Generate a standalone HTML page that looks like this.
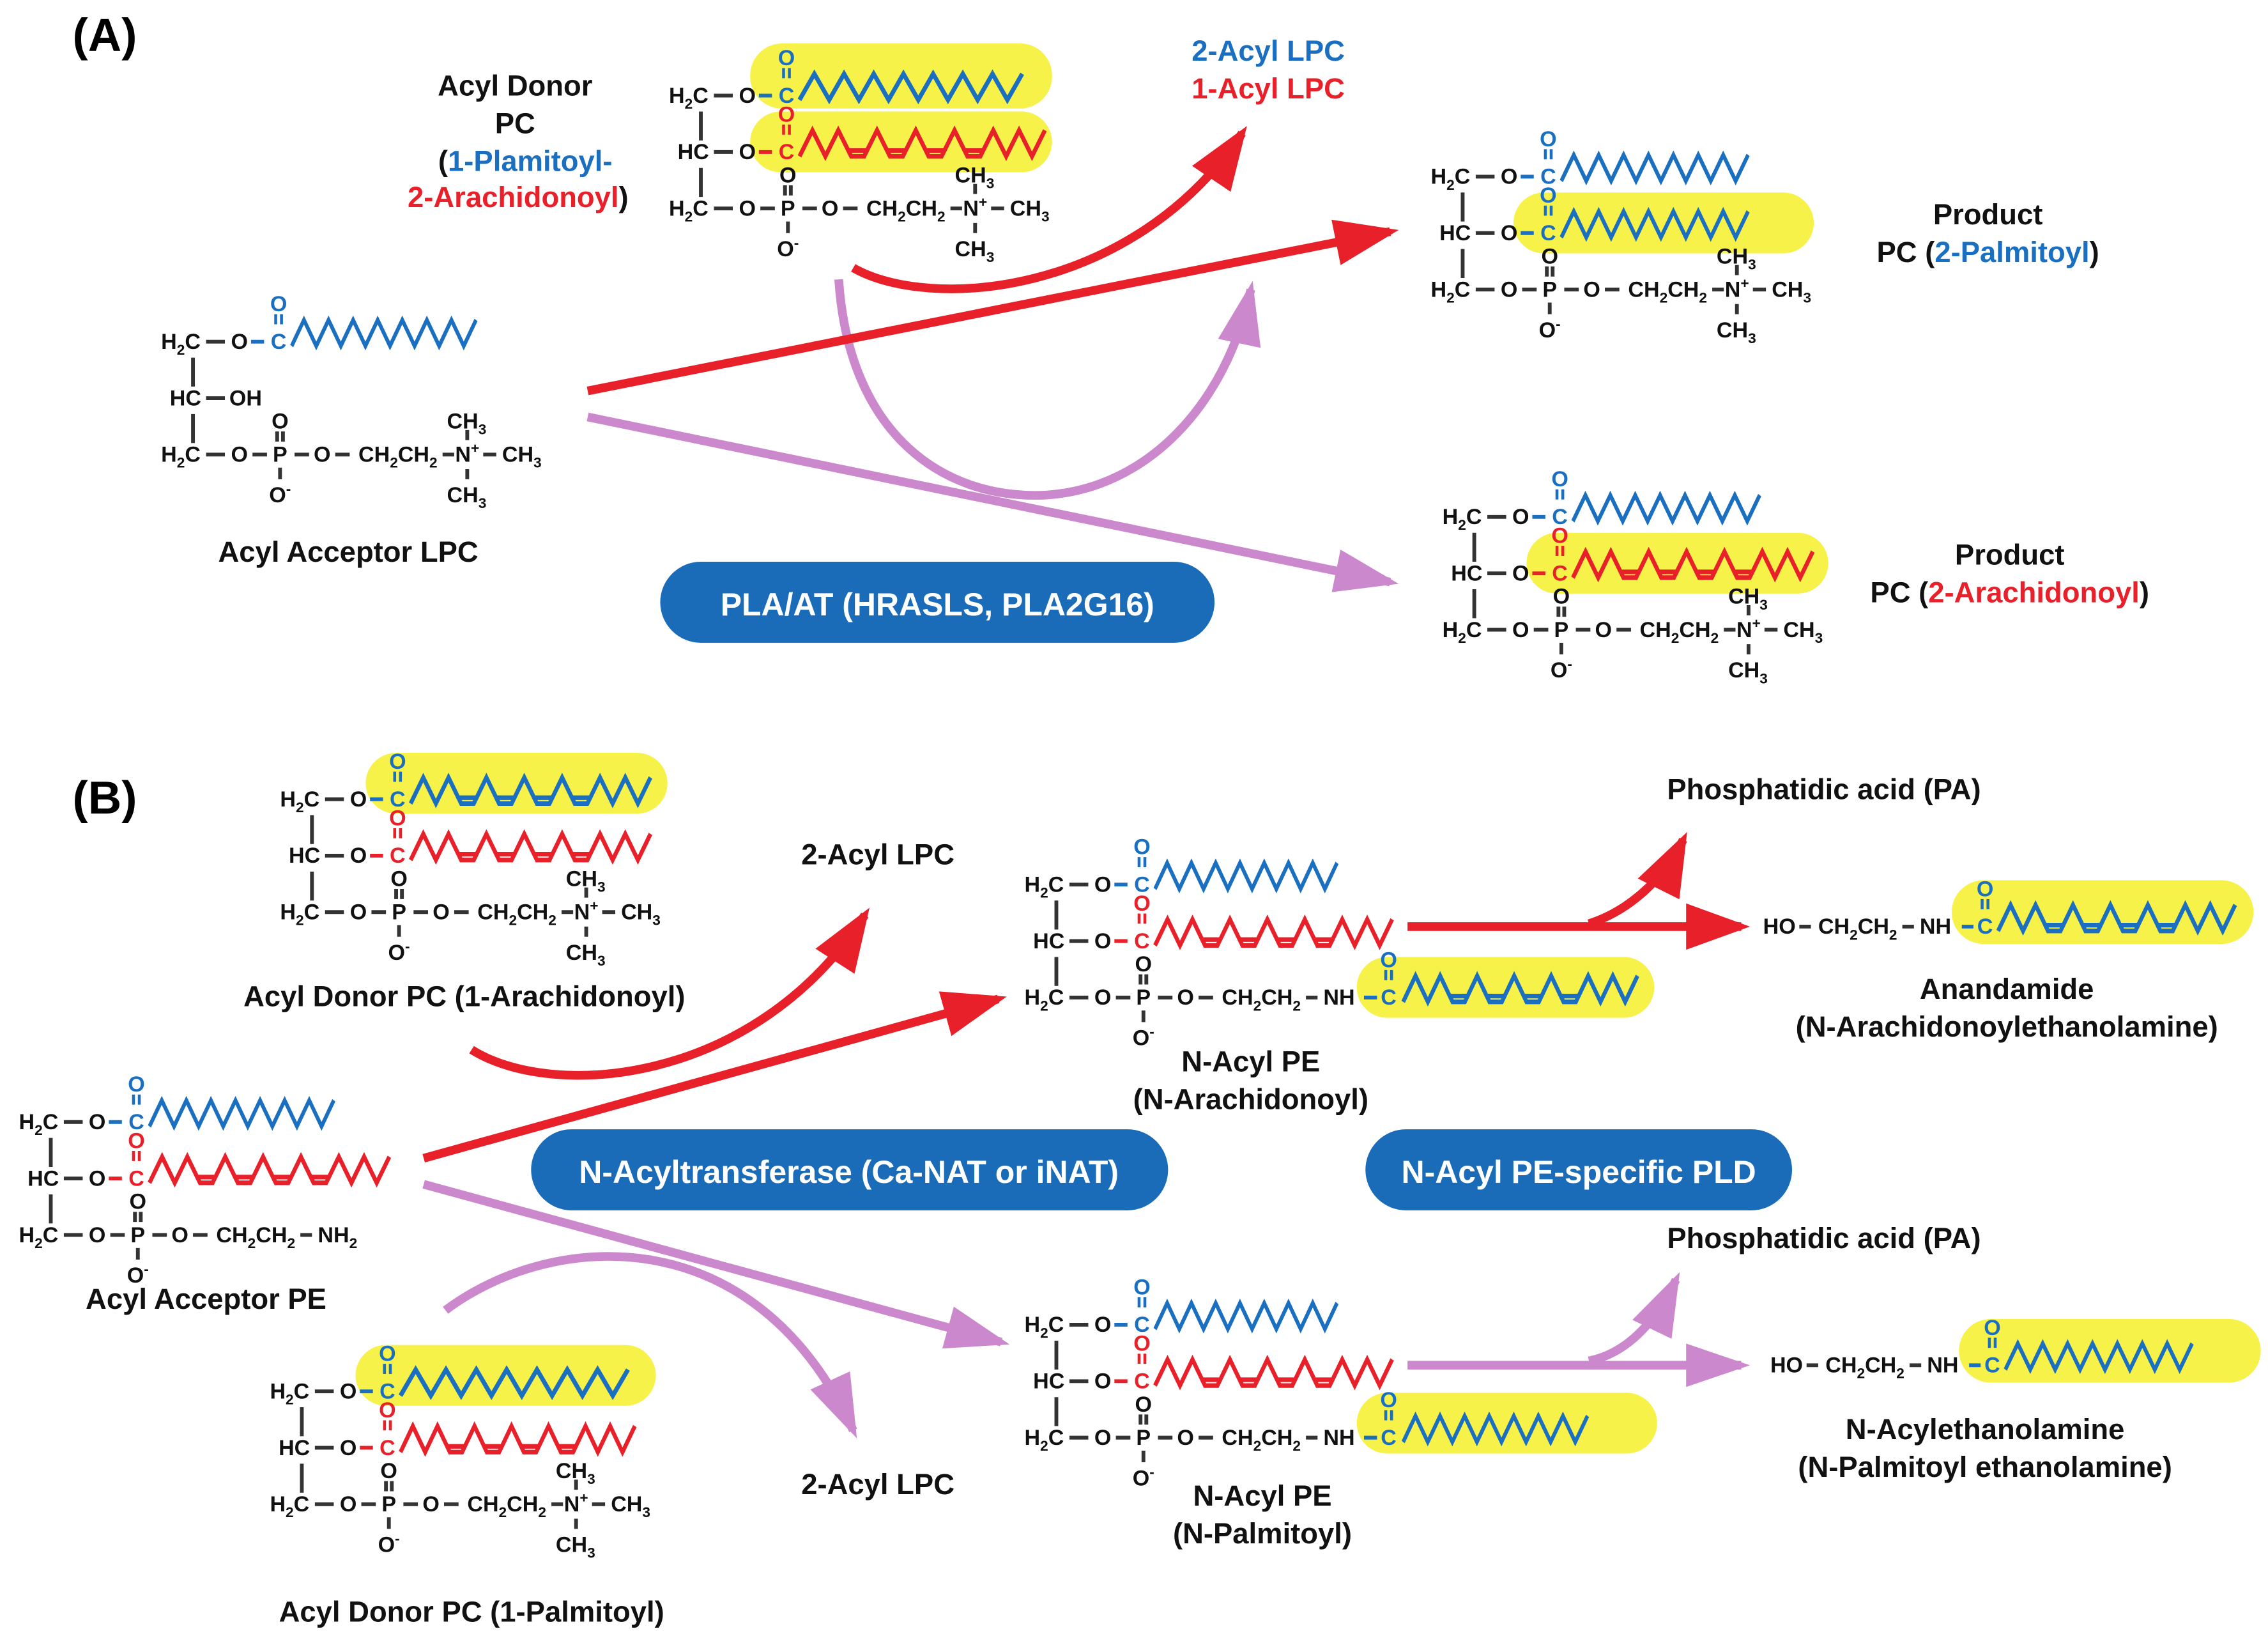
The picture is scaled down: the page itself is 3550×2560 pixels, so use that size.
<!DOCTYPE html>
<html><head><meta charset="utf-8"><style>
html,body{margin:0;padding:0;background:#fff}
svg{display:block}
text{font-family:"Liberation Sans",sans-serif;font-weight:bold}
.m{font-size:15px;fill:#111}
.s{font-size:10px}
.lb{font-size:20px;fill:#111}
.bd{stroke:#333;stroke-width:2.6}
.B{fill:#1a6fc0}.R{fill:#e8202a}
</style></head><body>
<svg width="3550" height="2560" viewBox="0 0 1563 1130" preserveAspectRatio="none" xmlns="http://www.w3.org/2000/svg">
<defs>
<path id="zz" fill="none" stroke-width="3.2" stroke-linejoin="miter" d="M0,0 l11,-18 11,18 11,-18 11,18 11,-18 11,18 11,-18 11,18 11,-18 11,18 11,-18 11,18 11,-18 11,18 11,-18"/>
<path id="zzd" fill="none" stroke-width="3.2" d="M0,0 l10,-18 10,18 10,-18 10,18 h10 l10,-18 10,18 h10 l10,-18 10,18 h10 l10,-18 10,18 h10 l10,-18 10,18 10,-18 10,18 10,-18 M38,-4 h14 M68,-4 h14 M98,-4 h14 M128,-4 h14"/>
<marker id="ar" markerUnits="userSpaceOnUse" markerWidth="44" markerHeight="32" refX="38" refY="16" orient="auto" viewBox="0 0 44 32"><path d="M0,0 L44,16 L0,32 z" fill="#e8202a"/></marker>
<marker id="ap" markerUnits="userSpaceOnUse" markerWidth="44" markerHeight="30" refX="38" refY="15" orient="auto" viewBox="0 0 44 30"><path d="M0,0 L44,15 L0,30 z" fill="#cc88cc"/></marker>
</defs>

<!-- labels -->
<text x="50" y="35" style="font-size:32px">(A)</text>
<text x="50" y="562" style="font-size:32px">(B)</text>
<g class="lb" text-anchor="middle">
<text x="355" y="66">Acyl Donor</text>
<text x="355" y="92">PC</text>
<text x="362" y="118">(<tspan class="B">1-Plamitoyl-</tspan></text>
<text x="357" y="143"><tspan class="R">2-Arachidonoyl</tspan>)</text>
<text x="874" y="42" class="B">2-Acyl LPC</text>
<text x="874" y="68" class="R">1-Acyl LPC</text>
<text x="240" y="388">Acyl Acceptor  LPC</text>
<text x="1370" y="155">Product</text>
<text x="1370" y="181">PC (<tspan class="B">2-Palmitoyl</tspan>)</text>
<text x="1385" y="390">Product</text>
<text x="1385" y="416">PC (<tspan class="R">2-Arachidonoyl</tspan>)</text>
<text x="320" y="695">Acyl Donor  PC (1-Arachidonoyl)</text>
<text x="605" y="597">2-Acyl LPC</text>
<text x="142" y="904">Acyl Acceptor  PE</text>
<text x="325" y="1120">Acyl Donor  PC (1-Palmitoyl)</text>
<text x="605" y="1032">2-Acyl LPC</text>
<text x="862" y="740">N-Acyl PE</text>
<text x="862" y="766">(N-Arachidonoyl)</text>
<text x="870" y="1040">N-Acyl PE</text>
<text x="870" y="1066">(N-Palmitoyl)</text>
<text x="1257" y="552">Phosphatidic acid (PA)</text>
<text x="1257" y="862">Phosphatidic acid (PA)</text>
<text x="1383" y="690">Anandamide</text>
<text x="1383" y="716">(N-Arachidonoylethanolamine)</text>
<text x="1368" y="994">N-Acylethanolamine</text>
<text x="1368" y="1020">(N-Palmitoyl ethanolamine)</text>
</g>

<!-- blue pills -->
<rect x="455" y="388" width="382" height="56" rx="28" fill="#1a6bb8"/>
<text x="646" y="425" text-anchor="middle" style="font-size:22px;fill:#fff">PLA/AT (HRASLS, PLA2G16)</text>
<rect x="366" y="780" width="439" height="56" rx="28" fill="#1a6bb8"/>
<text x="585" y="817" text-anchor="middle" style="font-size:22px;fill:#fff">N-Acyltransferase (Ca-NAT or iNAT)</text>
<rect x="941" y="780" width="294" height="56" rx="28" fill="#1a6bb8"/>
<text x="1088" y="817" text-anchor="middle" style="font-size:22px;fill:#fff">N-Acyl PE-specific PLD</text>

<!-- A donor PC -->
<g transform="translate(458,71)">
<rect x="59" y="-41" width="208" height="45" rx="22" fill="#f7f24a"/>
<rect x="59" y="6" width="208" height="42" rx="21" fill="#f7f24a"/>
<text class="m" x="3" y="0">H<tspan class="s" dy="4">2</tspan><tspan dy="-4">C</tspan></text><line class="bd" x1="34" x2="47" y1="-5" y2="-5"/><text class="m" x="57" y="0" text-anchor="middle">O</text>
<line x1="65" x2="74" y1="-5" y2="-5" stroke="#1a6fc0" stroke-width="2.6"/><text class="m B" x="84" y="0" text-anchor="middle">C</text><path d="M82,-24v7M86,-24v7" stroke="#1a6fc0" stroke-width="2"/><text class="m B" x="84" y="-26" text-anchor="middle">O</text>
<use href="#zz" transform="translate(93,-2) scale(.93,1)" stroke="#1a6fc0"/>
<text class="m" x="9" y="39">HC</text><line class="bd" x1="34" x2="47" y1="34" y2="34"/><text class="m" x="57" y="39" text-anchor="middle">O</text>
<line x1="65" x2="74" y1="34" y2="34" stroke="#e8202a" stroke-width="2.6"/><text class="m R" x="84" y="39" text-anchor="middle">C</text><path d="M82,15v7M86,15v7" stroke="#e8202a" stroke-width="2"/><text class="m R" x="84" y="13" text-anchor="middle">O</text>
<use href="#zzd" transform="translate(93,37) scale(.89,1)" stroke="#e8202a"/>
<path class="bd" d="M25,6v20M25,45v20"/>
<text class="m" x="3" y="78">H<tspan class="s" dy="4">2</tspan><tspan dy="-4">C</tspan></text><path class="bd" d="M34,73h13M66,73h10M95,73h10M123,73h10M197,73h8M225,73h9M83,57v7M87,57v7M85,82v8M214,56v7M214,83v7"/>
<text class="m" x="57" y="78" text-anchor="middle">O</text><text class="m" x="85" y="78" text-anchor="middle">P</text><text class="m" x="114" y="78" text-anchor="middle">O</text>
<text class="m" x="139" y="78">CH<tspan class="s" dy="4">2</tspan><tspan dy="-4">CH</tspan><tspan class="s" dy="4">2</tspan></text>
<text class="m" x="214" y="78" text-anchor="middle">N<tspan class="s" dy="-6">+</tspan></text><text class="m" x="238" y="78">CH<tspan class="s" dy="4">3</tspan></text>
<text class="m" x="85" y="55" text-anchor="middle">O</text><text class="m" x="85" y="106" text-anchor="middle">O<tspan class="s" dy="-6">-</tspan></text>
<text class="m" x="200" y="55">CH<tspan class="s" dy="4">3</tspan></text><text class="m" x="200" y="106">CH<tspan class="s" dy="4">3</tspan></text>
</g>

<!-- A LPC acceptor -->
<g transform="translate(108,241)">
<text class="m" x="3" y="0">H<tspan class="s" dy="4">2</tspan><tspan dy="-4">C</tspan></text><line class="bd" x1="34" x2="47" y1="-5" y2="-5"/><text class="m" x="57" y="0" text-anchor="middle">O</text>
<line x1="65" x2="74" y1="-5" y2="-5" stroke="#1a6fc0" stroke-width="2.6"/><text class="m B" x="84" y="0" text-anchor="middle">C</text><path d="M82,-24v7M86,-24v7" stroke="#1a6fc0" stroke-width="2"/><text class="m B" x="84" y="-26" text-anchor="middle">O</text>
<use href="#zz" transform="translate(93,-2) scale(.77,1)" stroke="#1a6fc0"/>
<text class="m" x="9" y="39">HC</text><line class="bd" x1="34" x2="47" y1="34" y2="34"/><text class="m" x="50" y="39">OH</text>
<path class="bd" d="M25,6v20M25,45v20"/>
<text class="m" x="3" y="78">H<tspan class="s" dy="4">2</tspan><tspan dy="-4">C</tspan></text><path class="bd" d="M34,73h13M66,73h10M95,73h10M123,73h10M197,73h8M225,73h9M83,57v7M87,57v7M85,82v8M214,56v7M214,83v7"/>
<text class="m" x="57" y="78" text-anchor="middle">O</text><text class="m" x="85" y="78" text-anchor="middle">P</text><text class="m" x="114" y="78" text-anchor="middle">O</text>
<text class="m" x="139" y="78">CH<tspan class="s" dy="4">2</tspan><tspan dy="-4">CH</tspan><tspan class="s" dy="4">2</tspan></text>
<text class="m" x="214" y="78" text-anchor="middle">N<tspan class="s" dy="-6">+</tspan></text><text class="m" x="238" y="78">CH<tspan class="s" dy="4">3</tspan></text>
<text class="m" x="85" y="55" text-anchor="middle">O</text><text class="m" x="85" y="106" text-anchor="middle">O<tspan class="s" dy="-6">-</tspan></text>
<text class="m" x="200" y="55">CH<tspan class="s" dy="4">3</tspan></text><text class="m" x="200" y="106">CH<tspan class="s" dy="4">3</tspan></text>
</g>

<!-- Product 1 -->
<g transform="translate(983,127)">
<rect x="60" y="6" width="207" height="42" rx="21" fill="#f7f24a"/>
<text class="m" x="3" y="0">H<tspan class="s" dy="4">2</tspan><tspan dy="-4">C</tspan></text><line class="bd" x1="34" x2="47" y1="-5" y2="-5"/><text class="m" x="57" y="0" text-anchor="middle">O</text>
<line x1="65" x2="74" y1="-5" y2="-5" stroke="#1a6fc0" stroke-width="2.6"/><text class="m B" x="84" y="0" text-anchor="middle">C</text><path d="M82,-24v7M86,-24v7" stroke="#1a6fc0" stroke-width="2"/><text class="m B" x="84" y="-26" text-anchor="middle">O</text>
<use href="#zz" transform="translate(93,-2) scale(.78,1)" stroke="#1a6fc0"/>
<text class="m" x="9" y="39">HC</text><line class="bd" x1="34" x2="47" y1="34" y2="34"/><text class="m" x="57" y="39" text-anchor="middle">O</text>
<line x1="65" x2="74" y1="34" y2="34" stroke="#1a6fc0" stroke-width="2.6"/><text class="m B" x="84" y="39" text-anchor="middle">C</text><path d="M82,15v7M86,15v7" stroke="#1a6fc0" stroke-width="2"/><text class="m B" x="84" y="13" text-anchor="middle">O</text>
<use href="#zz" transform="translate(93,37) scale(.78,1)" stroke="#1a6fc0"/>
<path class="bd" d="M25,6v20M25,45v20"/>
<text class="m" x="3" y="78">H<tspan class="s" dy="4">2</tspan><tspan dy="-4">C</tspan></text><path class="bd" d="M34,73h13M66,73h10M95,73h10M123,73h10M197,73h8M225,73h9M83,57v7M87,57v7M85,82v8M214,56v7M214,83v7"/>
<text class="m" x="57" y="78" text-anchor="middle">O</text><text class="m" x="85" y="78" text-anchor="middle">P</text><text class="m" x="114" y="78" text-anchor="middle">O</text>
<text class="m" x="139" y="78">CH<tspan class="s" dy="4">2</tspan><tspan dy="-4">CH</tspan><tspan class="s" dy="4">2</tspan></text>
<text class="m" x="214" y="78" text-anchor="middle">N<tspan class="s" dy="-6">+</tspan></text><text class="m" x="238" y="78">CH<tspan class="s" dy="4">3</tspan></text>
<text class="m" x="85" y="55" text-anchor="middle">O</text><text class="m" x="85" y="106" text-anchor="middle">O<tspan class="s" dy="-6">-</tspan></text>
<text class="m" x="200" y="55">CH<tspan class="s" dy="4">3</tspan></text><text class="m" x="200" y="106">CH<tspan class="s" dy="4">3</tspan></text>
</g>

<!-- Product 2 -->
<g transform="translate(991,362)">
<rect x="61" y="6" width="208" height="42" rx="21" fill="#f7f24a"/>
<text class="m" x="3" y="0">H<tspan class="s" dy="4">2</tspan><tspan dy="-4">C</tspan></text><line class="bd" x1="34" x2="47" y1="-5" y2="-5"/><text class="m" x="57" y="0" text-anchor="middle">O</text>
<line x1="65" x2="74" y1="-5" y2="-5" stroke="#1a6fc0" stroke-width="2.6"/><text class="m B" x="84" y="0" text-anchor="middle">C</text><path d="M82,-24v7M86,-24v7" stroke="#1a6fc0" stroke-width="2"/><text class="m B" x="84" y="-26" text-anchor="middle">O</text>
<use href="#zz" transform="translate(93,-2) scale(.78,1)" stroke="#1a6fc0"/>
<text class="m" x="9" y="39">HC</text><line class="bd" x1="34" x2="47" y1="34" y2="34"/><text class="m" x="57" y="39" text-anchor="middle">O</text>
<line x1="65" x2="74" y1="34" y2="34" stroke="#e8202a" stroke-width="2.6"/><text class="m R" x="84" y="39" text-anchor="middle">C</text><path d="M82,15v7M86,15v7" stroke="#e8202a" stroke-width="2"/><text class="m R" x="84" y="13" text-anchor="middle">O</text>
<use href="#zzd" transform="translate(93,37) scale(.87,1)" stroke="#e8202a"/>
<path class="bd" d="M25,6v20M25,45v20"/>
<text class="m" x="3" y="78">H<tspan class="s" dy="4">2</tspan><tspan dy="-4">C</tspan></text><path class="bd" d="M34,73h13M66,73h10M95,73h10M123,73h10M197,73h8M225,73h9M83,57v7M87,57v7M85,82v8M214,56v7M214,83v7"/>
<text class="m" x="57" y="78" text-anchor="middle">O</text><text class="m" x="85" y="78" text-anchor="middle">P</text><text class="m" x="114" y="78" text-anchor="middle">O</text>
<text class="m" x="139" y="78">CH<tspan class="s" dy="4">2</tspan><tspan dy="-4">CH</tspan><tspan class="s" dy="4">2</tspan></text>
<text class="m" x="214" y="78" text-anchor="middle">N<tspan class="s" dy="-6">+</tspan></text><text class="m" x="238" y="78">CH<tspan class="s" dy="4">3</tspan></text>
<text class="m" x="85" y="55" text-anchor="middle">O</text><text class="m" x="85" y="106" text-anchor="middle">O<tspan class="s" dy="-6">-</tspan></text>
<text class="m" x="200" y="55">CH<tspan class="s" dy="4">3</tspan></text><text class="m" x="200" y="106">CH<tspan class="s" dy="4">3</tspan></text>
</g>

<!-- B top donor -->
<g transform="translate(190,557)">
<rect x="62" y="-37" width="208" height="42" rx="21" fill="#f7f24a"/>
<text class="m" x="3" y="0">H<tspan class="s" dy="4">2</tspan><tspan dy="-4">C</tspan></text><line class="bd" x1="34" x2="47" y1="-5" y2="-5"/><text class="m" x="57" y="0" text-anchor="middle">O</text>
<line x1="65" x2="74" y1="-5" y2="-5" stroke="#1a6fc0" stroke-width="2.6"/><text class="m B" x="84" y="0" text-anchor="middle">C</text><path d="M82,-24v7M86,-24v7" stroke="#1a6fc0" stroke-width="2"/><text class="m B" x="84" y="-26" text-anchor="middle">O</text>
<use href="#zzd" transform="translate(93,-2) scale(.87,1)" stroke="#1a6fc0"/>
<text class="m" x="9" y="39">HC</text><line class="bd" x1="34" x2="47" y1="34" y2="34"/><text class="m" x="57" y="39" text-anchor="middle">O</text>
<line x1="65" x2="74" y1="34" y2="34" stroke="#e8202a" stroke-width="2.6"/><text class="m R" x="84" y="39" text-anchor="middle">C</text><path d="M82,15v7M86,15v7" stroke="#e8202a" stroke-width="2"/><text class="m R" x="84" y="13" text-anchor="middle">O</text>
<use href="#zzd" transform="translate(93,37) scale(.87,1)" stroke="#e8202a"/>
<path class="bd" d="M25,6v20M25,45v20"/>
<text class="m" x="3" y="78">H<tspan class="s" dy="4">2</tspan><tspan dy="-4">C</tspan></text><path class="bd" d="M34,73h13M66,73h10M95,73h10M123,73h10M197,73h8M225,73h9M83,57v7M87,57v7M85,82v8M214,56v7M214,83v7"/>
<text class="m" x="57" y="78" text-anchor="middle">O</text><text class="m" x="85" y="78" text-anchor="middle">P</text><text class="m" x="114" y="78" text-anchor="middle">O</text>
<text class="m" x="139" y="78">CH<tspan class="s" dy="4">2</tspan><tspan dy="-4">CH</tspan><tspan class="s" dy="4">2</tspan></text>
<text class="m" x="214" y="78" text-anchor="middle">N<tspan class="s" dy="-6">+</tspan></text><text class="m" x="238" y="78">CH<tspan class="s" dy="4">3</tspan></text>
<text class="m" x="85" y="55" text-anchor="middle">O</text><text class="m" x="85" y="106" text-anchor="middle">O<tspan class="s" dy="-6">-</tspan></text>
<text class="m" x="200" y="55">CH<tspan class="s" dy="4">3</tspan></text><text class="m" x="200" y="106">CH<tspan class="s" dy="4">3</tspan></text>
</g>

<!-- B acceptor PE -->
<g transform="translate(10,780)">
<text class="m" x="3" y="0">H<tspan class="s" dy="4">2</tspan><tspan dy="-4">C</tspan></text><line class="bd" x1="34" x2="47" y1="-5" y2="-5"/><text class="m" x="57" y="0" text-anchor="middle">O</text>
<line x1="65" x2="74" y1="-5" y2="-5" stroke="#1a6fc0" stroke-width="2.6"/><text class="m B" x="84" y="0" text-anchor="middle">C</text><path d="M82,-24v7M86,-24v7" stroke="#1a6fc0" stroke-width="2"/><text class="m B" x="84" y="-26" text-anchor="middle">O</text>
<use href="#zz" transform="translate(93,-2) scale(.77,1)" stroke="#1a6fc0"/>
<text class="m" x="9" y="39">HC</text><line class="bd" x1="34" x2="47" y1="34" y2="34"/><text class="m" x="57" y="39" text-anchor="middle">O</text>
<line x1="65" x2="74" y1="34" y2="34" stroke="#e8202a" stroke-width="2.6"/><text class="m R" x="84" y="39" text-anchor="middle">C</text><path d="M82,15v7M86,15v7" stroke="#e8202a" stroke-width="2"/><text class="m R" x="84" y="13" text-anchor="middle">O</text>
<use href="#zzd" transform="translate(93,37) scale(.87,1)" stroke="#e8202a"/>
<path class="bd" d="M25,6v20M25,45v20"/>
<text class="m" x="3" y="78">H<tspan class="s" dy="4">2</tspan><tspan dy="-4">C</tspan></text><path class="bd" d="M34,73h13M66,73h10M95,73h10M123,73h10M197,73h8M83,57v7M87,57v7M85,82v8"/>
<text class="m" x="57" y="78" text-anchor="middle">O</text><text class="m" x="85" y="78" text-anchor="middle">P</text><text class="m" x="114" y="78" text-anchor="middle">O</text>
<text class="m" x="139" y="78">CH<tspan class="s" dy="4">2</tspan><tspan dy="-4">CH</tspan><tspan class="s" dy="4">2</tspan></text>
<text class="m" x="209" y="78">NH<tspan class="s" dy="4">2</tspan></text>
<text class="m" x="85" y="55" text-anchor="middle">O</text><text class="m" x="85" y="106" text-anchor="middle">O<tspan class="s" dy="-6">-</tspan></text>
</g>

<!-- B bottom donor -->
<g transform="translate(183,966)">
<rect x="62" y="-37" width="207" height="42" rx="21" fill="#f7f24a"/>
<text class="m" x="3" y="0">H<tspan class="s" dy="4">2</tspan><tspan dy="-4">C</tspan></text><line class="bd" x1="34" x2="47" y1="-5" y2="-5"/><text class="m" x="57" y="0" text-anchor="middle">O</text>
<line x1="65" x2="74" y1="-5" y2="-5" stroke="#1a6fc0" stroke-width="2.6"/><text class="m B" x="84" y="0" text-anchor="middle">C</text><path d="M82,-24v7M86,-24v7" stroke="#1a6fc0" stroke-width="2"/><text class="m B" x="84" y="-26" text-anchor="middle">O</text>
<use href="#zz" transform="translate(93,-2) scale(.95,1)" stroke="#1a6fc0"/>
<text class="m" x="9" y="39">HC</text><line class="bd" x1="34" x2="47" y1="34" y2="34"/><text class="m" x="57" y="39" text-anchor="middle">O</text>
<line x1="65" x2="74" y1="34" y2="34" stroke="#e8202a" stroke-width="2.6"/><text class="m R" x="84" y="39" text-anchor="middle">C</text><path d="M82,15v7M86,15v7" stroke="#e8202a" stroke-width="2"/><text class="m R" x="84" y="13" text-anchor="middle">O</text>
<use href="#zzd" transform="translate(93,37) scale(.85,1)" stroke="#e8202a"/>
<path class="bd" d="M25,6v20M25,45v20"/>
<text class="m" x="3" y="78">H<tspan class="s" dy="4">2</tspan><tspan dy="-4">C</tspan></text><path class="bd" d="M34,73h13M66,73h10M95,73h10M123,73h10M197,73h8M225,73h9M83,57v7M87,57v7M85,82v8M214,56v7M214,83v7"/>
<text class="m" x="57" y="78" text-anchor="middle">O</text><text class="m" x="85" y="78" text-anchor="middle">P</text><text class="m" x="114" y="78" text-anchor="middle">O</text>
<text class="m" x="139" y="78">CH<tspan class="s" dy="4">2</tspan><tspan dy="-4">CH</tspan><tspan class="s" dy="4">2</tspan></text>
<text class="m" x="214" y="78" text-anchor="middle">N<tspan class="s" dy="-6">+</tspan></text><text class="m" x="238" y="78">CH<tspan class="s" dy="4">3</tspan></text>
<text class="m" x="85" y="55" text-anchor="middle">O</text><text class="m" x="85" y="106" text-anchor="middle">O<tspan class="s" dy="-6">-</tspan></text>
<text class="m" x="200" y="55">CH<tspan class="s" dy="4">3</tspan></text><text class="m" x="200" y="106">CH<tspan class="s" dy="4">3</tspan></text>
</g>

<!-- N-Acyl PE 1 -->
<g transform="translate(703,616)">
<rect x="232" y="45" width="205" height="42" rx="21" fill="#f7f24a"/>
<text class="m" x="3" y="0">H<tspan class="s" dy="4">2</tspan><tspan dy="-4">C</tspan></text><line class="bd" x1="34" x2="47" y1="-5" y2="-5"/><text class="m" x="57" y="0" text-anchor="middle">O</text>
<line x1="65" x2="74" y1="-5" y2="-5" stroke="#1a6fc0" stroke-width="2.6"/><text class="m B" x="84" y="0" text-anchor="middle">C</text><path d="M82,-24v7M86,-24v7" stroke="#1a6fc0" stroke-width="2"/><text class="m B" x="84" y="-26" text-anchor="middle">O</text>
<use href="#zz" transform="translate(93,-2) scale(.76,1)" stroke="#1a6fc0"/>
<text class="m" x="9" y="39">HC</text><line class="bd" x1="34" x2="47" y1="34" y2="34"/><text class="m" x="57" y="39" text-anchor="middle">O</text>
<line x1="65" x2="74" y1="34" y2="34" stroke="#e8202a" stroke-width="2.6"/><text class="m R" x="84" y="39" text-anchor="middle">C</text><path d="M82,15v7M86,15v7" stroke="#e8202a" stroke-width="2"/><text class="m R" x="84" y="13" text-anchor="middle">O</text>
<use href="#zzd" transform="translate(93,37) scale(.86,1)" stroke="#e8202a"/>
<path class="bd" d="M25,6v20M25,45v20"/>
<text class="m" x="3" y="78">H<tspan class="s" dy="4">2</tspan><tspan dy="-4">C</tspan></text><path class="bd" d="M34,73h13M66,73h10M95,73h10M123,73h10M197,73h8M83,57v7M87,57v7M85,82v8"/>
<text class="m" x="57" y="78" text-anchor="middle">O</text><text class="m" x="85" y="78" text-anchor="middle">P</text><text class="m" x="114" y="78" text-anchor="middle">O</text>
<text class="m" x="139" y="78">CH<tspan class="s" dy="4">2</tspan><tspan dy="-4">CH</tspan><tspan class="s" dy="4">2</tspan></text>
<text class="m" x="209" y="78">NH</text><line x1="237" x2="246" y1="73" y2="73" stroke="#1a6fc0" stroke-width="2.6"/>
<text class="m B" x="254" y="78" text-anchor="middle">C</text><path d="M252,54v7M256,54v7" stroke="#1a6fc0" stroke-width="2"/><text class="m B" x="254" y="52" text-anchor="middle">O</text>
<use href="#zzd" transform="translate(264,76) scale(.85,1)" stroke="#1a6fc0"/>
<text class="m" x="85" y="55" text-anchor="middle">O</text><text class="m" x="85" y="106" text-anchor="middle">O<tspan class="s" dy="-6">-</tspan></text>
</g>

<!-- N-Acyl PE 2 -->
<g transform="translate(703,920)">
<rect x="232" y="42" width="207" height="42" rx="21" fill="#f7f24a"/>
<text class="m" x="3" y="0">H<tspan class="s" dy="4">2</tspan><tspan dy="-4">C</tspan></text><line class="bd" x1="34" x2="47" y1="-5" y2="-5"/><text class="m" x="57" y="0" text-anchor="middle">O</text>
<line x1="65" x2="74" y1="-5" y2="-5" stroke="#1a6fc0" stroke-width="2.6"/><text class="m B" x="84" y="0" text-anchor="middle">C</text><path d="M82,-24v7M86,-24v7" stroke="#1a6fc0" stroke-width="2"/><text class="m B" x="84" y="-26" text-anchor="middle">O</text>
<use href="#zz" transform="translate(93,-2) scale(.76,1)" stroke="#1a6fc0"/>
<text class="m" x="9" y="39">HC</text><line class="bd" x1="34" x2="47" y1="34" y2="34"/><text class="m" x="57" y="39" text-anchor="middle">O</text>
<line x1="65" x2="74" y1="34" y2="34" stroke="#e8202a" stroke-width="2.6"/><text class="m R" x="84" y="39" text-anchor="middle">C</text><path d="M82,15v7M86,15v7" stroke="#e8202a" stroke-width="2"/><text class="m R" x="84" y="13" text-anchor="middle">O</text>
<use href="#zzd" transform="translate(93,37) scale(.86,1)" stroke="#e8202a"/>
<path class="bd" d="M25,6v20M25,45v20"/>
<text class="m" x="3" y="78">H<tspan class="s" dy="4">2</tspan><tspan dy="-4">C</tspan></text><path class="bd" d="M34,73h13M66,73h10M95,73h10M123,73h10M197,73h8M83,57v7M87,57v7M85,82v8"/>
<text class="m" x="57" y="78" text-anchor="middle">O</text><text class="m" x="85" y="78" text-anchor="middle">P</text><text class="m" x="114" y="78" text-anchor="middle">O</text>
<text class="m" x="139" y="78">CH<tspan class="s" dy="4">2</tspan><tspan dy="-4">CH</tspan><tspan class="s" dy="4">2</tspan></text>
<text class="m" x="209" y="78">NH</text><line x1="237" x2="246" y1="73" y2="73" stroke="#1a6fc0" stroke-width="2.6"/>
<text class="m B" x="254" y="78" text-anchor="middle">C</text><path d="M252,54v7M256,54v7" stroke="#1a6fc0" stroke-width="2"/><text class="m B" x="254" y="52" text-anchor="middle">O</text>
<use href="#zz" transform="translate(264,76) scale(.77,1)" stroke="#1a6fc0"/>
<text class="m" x="85" y="55" text-anchor="middle">O</text><text class="m" x="85" y="106" text-anchor="middle">O<tspan class="s" dy="-6">-</tspan></text>
</g>

<!-- Anandamide -->
<g transform="translate(1215,645)">
<rect x="130" y="-37" width="208" height="44" rx="22" fill="#f7f24a"/>
<text class="m" x="0" y="0">HO</text><path class="bd" d="M25,-5h8M96,-5h8"/>
<text class="m" x="38" y="0">CH<tspan class="s" dy="4">2</tspan><tspan dy="-4">CH</tspan><tspan class="s" dy="4">2</tspan></text>
<text class="m" x="108" y="0">NH</text><line x1="137" x2="145" y1="-5" y2="-5" stroke="#1a6fc0" stroke-width="2.6"/>
<text class="m B" x="153" y="0" text-anchor="middle">C</text><path d="M151,-24v7M155,-24v7" stroke="#1a6fc0" stroke-width="2"/><text class="m B" x="153" y="-26" text-anchor="middle">O</text>
<use href="#zzd" transform="translate(162,-2) scale(.86,1)" stroke="#1a6fc0"/>
</g>

<!-- NAE -->
<g transform="translate(1220,948)">
<rect x="130" y="-37" width="208" height="44" rx="22" fill="#f7f24a"/>
<text class="m" x="0" y="0">HO</text><path class="bd" d="M25,-5h8M96,-5h8"/>
<text class="m" x="38" y="0">CH<tspan class="s" dy="4">2</tspan><tspan dy="-4">CH</tspan><tspan class="s" dy="4">2</tspan></text>
<text class="m" x="108" y="0">NH</text><line x1="137" x2="145" y1="-5" y2="-5" stroke="#1a6fc0" stroke-width="2.6"/>
<text class="m B" x="153" y="0" text-anchor="middle">C</text><path d="M151,-24v7M155,-24v7" stroke="#1a6fc0" stroke-width="2"/><text class="m B" x="153" y="-26" text-anchor="middle">O</text>
<use href="#zz" transform="translate(162,-2) scale(.78,1)" stroke="#1a6fc0"/>
</g>

<!-- arrows -->
<g fill="none" stroke-width="6">
<path d="M578,193 C585,300 650,345 720,342 C790,338 845,280 862,200" stroke="#cc88cc" marker-end="url(#ap)"/>
<path d="M405,288 L958,402" stroke="#cc88cc" marker-end="url(#ap)"/>
<path d="M405,270 L958,160" stroke="#e8202a" marker-end="url(#ar)"/>
<path d="M588,185 C640,215 780,205 856,92" stroke="#e8202a" marker-end="url(#ar)"/>
<path d="M292,800 L688,690" stroke="#e8202a" marker-end="url(#ar)"/>
<path d="M325,725 C380,760 520,750 596,632" stroke="#e8202a" marker-end="url(#ar)"/>
<path d="M970,640 L1200,640" stroke="#e8202a" marker-end="url(#ar)"/>
<path d="M1095,638 C1120,630 1145,610 1160,580" stroke="#e8202a" marker-end="url(#ar)"/>
<path d="M292,818 L690,927" stroke="#cc88cc" marker-end="url(#ap)"/>
<path d="M307,905 C380,850 520,840 588,988" stroke="#cc88cc" marker-end="url(#ap)"/>
<path d="M970,943 L1200,943" stroke="#cc88cc" marker-end="url(#ap)"/>
<path d="M1095,940 C1120,935 1140,915 1155,884" stroke="#cc88cc" marker-end="url(#ap)"/>
</g>
</svg>
</body></html>
